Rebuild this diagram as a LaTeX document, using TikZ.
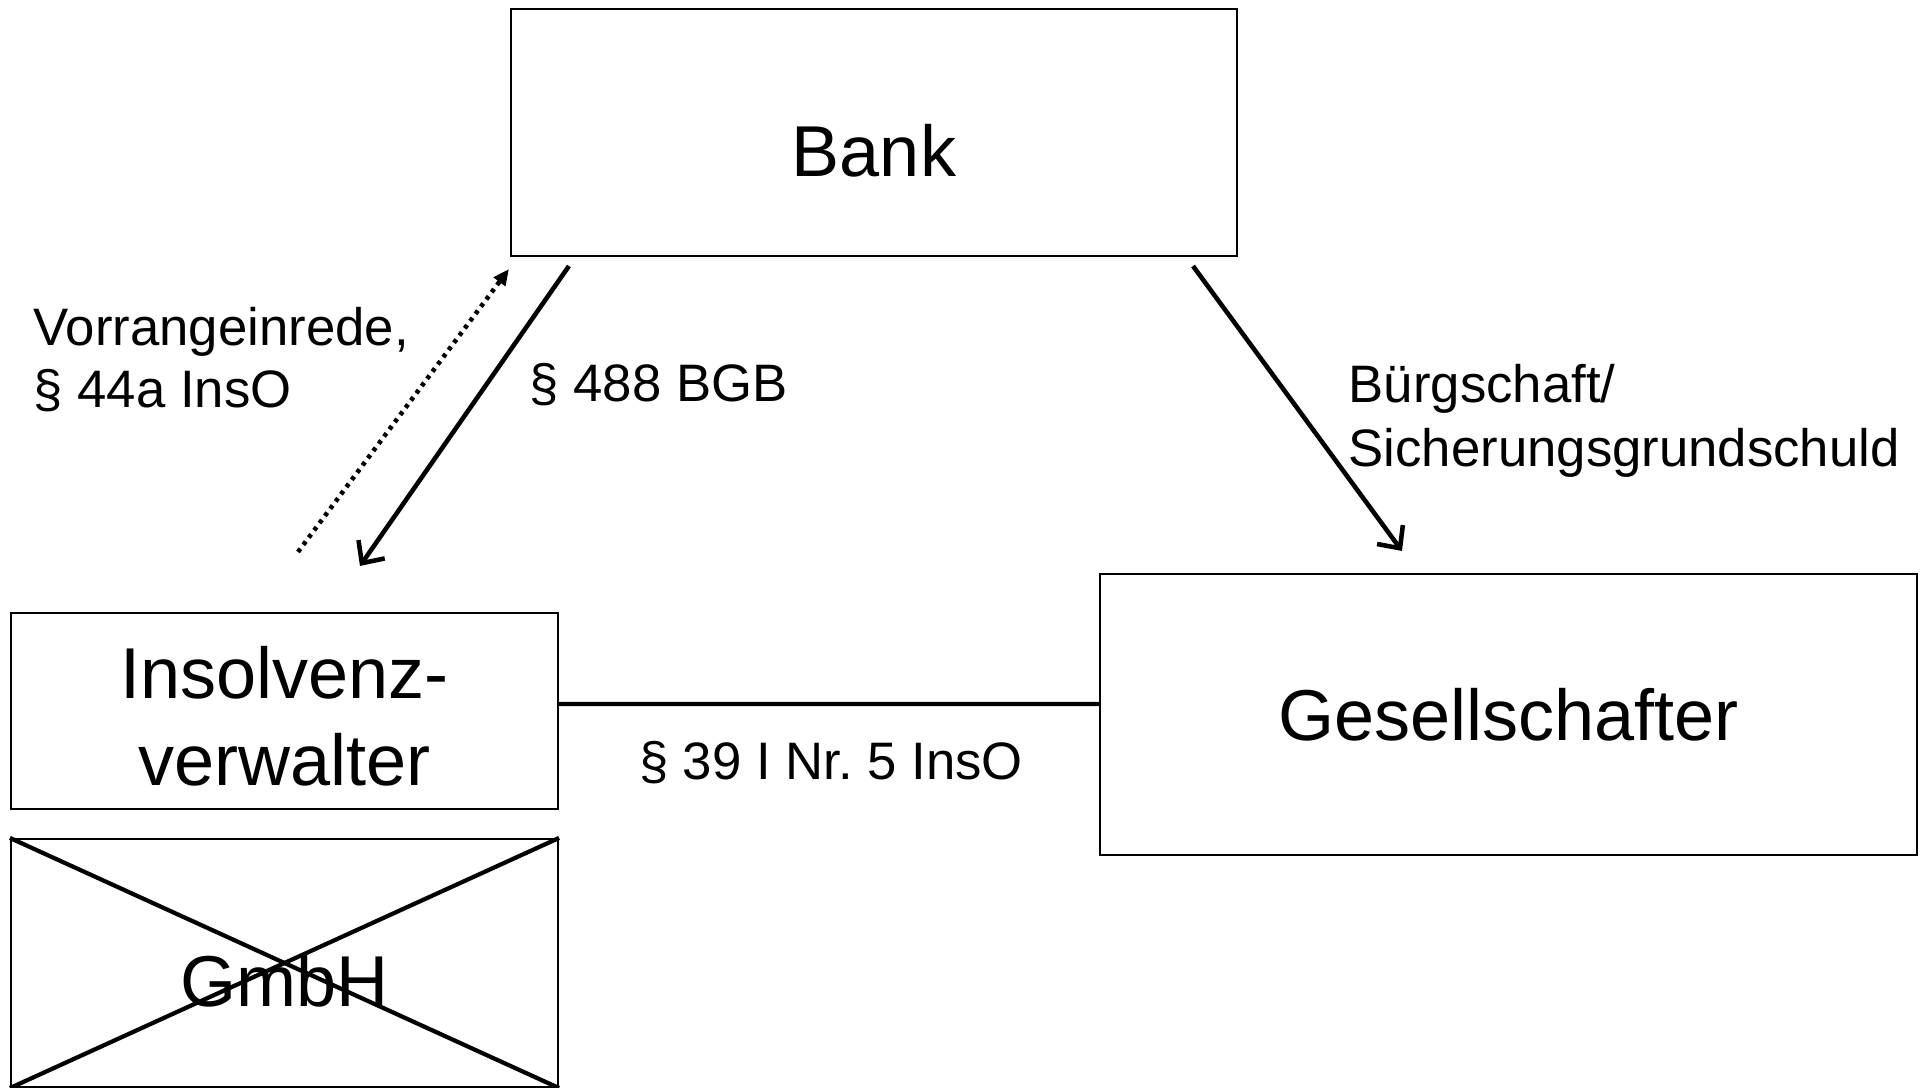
\documentclass[tikz,border=0pt]{standalone}
\usepackage{fontspec}
\setmainfont{Liberation Sans}
\usetikzlibrary{arrows.meta}

\tikzstyle{box} = [rectangle, draw=black, line width=0.6pt, align=center, text centered, font=\fontsize{20.5}{24.7}\selectfont]
\tikzstyle{box-nb} = [rectangle, inner sep=0pt, align=left, font=\fontsize{15}{17.6}\selectfont]
\tikzstyle{arrow} = [line width=1.3pt, -{Straight Barb[length=0.17cm, width=0.32cm]}]
\tikzstyle{dotarrow} = [line width=1.3pt, dash pattern=on 0.04cm off 0.05cm, -{Triangle[length=0.16cm, width=0.14cm]}]
\tikzstyle{link} = [line width=1.2pt]

\begin{document}
\begin{tikzpicture}
  \useasboundingbox (-8.74,1.325) rectangle (10.56,-9.555);

  \node (bank) [box, minimum width=7.26cm, minimum height=2.47cm] {};
  \node (bank-text) [box-nb, font=\fontsize{20.5}{24.7}\selectfont, below of=bank, yshift=0.815cm] {Bank};
  \node (insolv) [box, minimum width=5.47cm, minimum height=1.96cm, below of=bank, xshift=-5.895cm, yshift=-4.785cm] {};
  \node (insolv-text) [box-nb, align=center, font=\fontsize{20.5}{24.7}\selectfont, below of=insolv, yshift=0.95cm] {Insolvenz-\\verwalter};
  \node (gmbh) [box, minimum width=5.47cm, minimum height=2.48cm, below of=insolv, yshift=-1.52cm] {};
  \node (gmbh-text) [box-nb, font=\fontsize{20.5}{24.7}\selectfont, below of=gmbh, yshift=0.82cm] {GmbH};
  \node (gesell) [box, minimum width=8.17cm, minimum height=2.81cm, below of=bank, xshift=6.345cm, yshift=-4.82cm] {Gesellschafter};

  \node (vorrang) [box-nb, below of=bank, anchor=west, xshift=-8.41cm, yshift=-1.275cm] {Vorrangeinrede,\\\S~44a InsO};
  \node (bgb) [box-nb, below of=bank, anchor=west, xshift=-3.45cm, yshift=-1.525cm] {\S~488 BGB};
  \node (buerg) [box-nb, font=\fontsize{15}{18.2}\selectfont, below of=bank, anchor=west, xshift=4.74cm, yshift=-1.885cm] {Bürgschaft/\\Sicherungsgrundschuld};
  \node (inso) [box-nb, below of=bank, xshift=-0.43cm, yshift=-5.305cm] {\S~39 I Nr.\ 5 InsO};

  \draw [arrow] ([xshift=0.59cm, yshift=-0.09cm]bank.south west) -- ([xshift=0.755cm, yshift=0.46cm]insolv.north);
  \draw [dotarrow] ([xshift=0.135cm, yshift=0.6cm]insolv.north) -- ([xshift=-0.01cm, yshift=-0.12cm]bank.south west);
  \draw [arrow] ([xshift=-0.45cm, yshift=-0.09cm]bank.south east) -- ([xshift=-1.065cm, yshift=0.22cm]gesell.north);
  \draw [link] ([yshift=0.07cm]insolv.east) -- ([yshift=0.105cm]gesell.west);
  \draw [link] (gmbh.north west) -- (gmbh.south east);
  \draw [link] (gmbh.south west) -- (gmbh.north east);
\end{tikzpicture}
\end{document}
